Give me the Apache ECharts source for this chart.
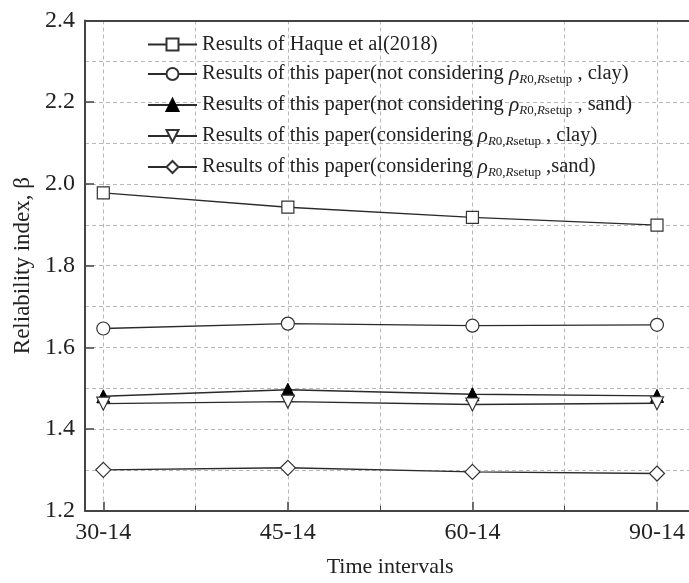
<!DOCTYPE html>
<html>
<head>
<meta charset="utf-8">
<script src="https://cdn.jsdelivr.net/npm/echarts@6/dist/echarts.min.js"></script>
<style>
html,body{margin:0;padding:0;background:#fff;}
#chart{width:689px;height:583px;}
</style>
</head>
<body>
<div id="chart"></div>
<script>
// ---- data ----
const categories = ['30-14', '45-14', '60-14', '90-14'];
const haque      = [1.978, 1.943, 1.918, 1.899];
const notClay    = [1.646, 1.658, 1.653, 1.655];
const notSand    = [1.480, 1.496, 1.485, 1.481];
const consClay   = [1.462, 1.467, 1.460, 1.463];
const consSand   = [1.300, 1.305, 1.295, 1.291];
const seriesNames = [
  'Results of Haque et al(2018)',
  'Results of this paper(not considering ρR0,Rsetup , clay)',
  'Results of this paper(not considering ρR0,Rsetup , sand)',
  'Results of this paper(considering ρR0,Rsetup , clay)',
  'Results of this paper(considering ρR0,Rsetup ,sand)'
];
const yAxisName = 'Reliability index, β';
const xAxisName = 'Time intervals';

const FONT = '"Liberation Serif", "Times New Roman", serif';
const INK = '#222';
const GRIDC = '#b8b8b8';

function toPts(arr) { return arr.map((v, i) => [i, v]); }

function legendFmt(name) {
  const key = 'ρR0,Rsetup';
  const k = name.indexOf(key);
  if (k < 0) return '{t|' + name + '}';
  const before = name.slice(0, k);
  const after = name.slice(k + key.length);
  return '{t|' + before + '}{rho|ρ}{si|R}{s|0,}{si|R}{s|setup}{t|' + after + '}';
}

const chart = echarts.init(document.getElementById('chart'), null, {renderer: 'canvas'});

const markerStyle = {color: '#fff', borderColor: '#333', borderWidth: 1.2};
const lineStyle = {color: '#2a2a2a', width: 1.4};

function mkSeries(idx, data, symbol, size, extra) {
  return Object.assign({
    name: seriesNames[idx],
    type: 'line',
    xAxisIndex: 1,
    yAxisIndex: 1,
    data: toPts(data),
    symbol: symbol,
    symbolSize: size,
    showAllSymbol: true,
    lineStyle: lineStyle,
    itemStyle: Object.assign({}, markerStyle),
    emphasis: {disabled: true},
    animation: false,
    z: 3 + idx
  }, extra || {});
}

const option = {
  backgroundColor: '#fff',
  animation: false,
  grid: [
    {left: 85, top: 20.5, width: 620, bottom: 72.3, outerBoundsMode: 'none', containLabel: false},
    {left: 103.3, top: 20.5, width: 553.7, bottom: 72.3, outerBoundsMode: 'none', containLabel: false}
  ],
  xAxis: [
    { // frame bottom
      gridIndex: 0, type: 'value', min: 0, max: 1, position: 'bottom',
      axisLine: {show: true, lineStyle: {color: '#444', width: 2}},
      axisTick: {show: false}, axisLabel: {show: false}, splitLine: {show: false}
    },
    { // data axis
      gridIndex: 1, type: 'value', min: 0, max: 3, interval: 1, position: 'bottom',
      axisLine: {show: false},
      axisTick: {show: true, inside: true, length: 9, lineStyle: {color: '#444', width: 1.5}},
      minorTick: {show: true, splitNumber: 2, length: 5, lineStyle: {color: '#444', width: 1}},
      axisLabel: {
        show: true, margin: 10, fontFamily: FONT, fontSize: 24, color: INK,
        formatter: function (v) { return Number.isInteger(v) ? categories[v] : ''; }
      },
      splitLine: {show: true, lineStyle: {color: GRIDC, type: [4, 3], width: 1}},
      minorSplitLine: {show: true, lineStyle: {color: GRIDC, type: [4, 3], width: 1}},
      name: xAxisName, nameLocation: 'middle', nameGap: 46,
      nameTextStyle: {fontFamily: FONT, fontSize: 22, color: INK, padding: [0, 0, 0, 20]}
    },
    { // frame top
      gridIndex: 0, type: 'value', min: 0, max: 1, position: 'top',
      axisLine: {show: true, lineStyle: {color: '#444', width: 2}},
      axisTick: {show: false}, axisLabel: {show: false}, splitLine: {show: false}
    }
  ],
  yAxis: [
    {
      gridIndex: 0, type: 'value', min: 1.2, max: 2.4, interval: 0.2,
      axisLine: {show: true, lineStyle: {color: '#444', width: 2}},
      axisTick: {show: true, inside: true, length: 9, lineStyle: {color: '#444', width: 1.5}},
      minorTick: {show: true, splitNumber: 2, length: 0, lineStyle: {opacity: 0}},
      axisLabel: {
        margin: 10, fontFamily: FONT, fontSize: 24, color: INK,
        formatter: function (v) { return v.toFixed(1); }
      },
      splitLine: {show: true, lineStyle: {color: GRIDC, type: [4, 3], width: 1}},
      minorSplitLine: {show: true, lineStyle: {color: GRIDC, type: [4, 3], width: 1}},
      name: yAxisName, nameLocation: 'middle', nameGap: 41, nameRotate: 90,
      nameTextStyle: {fontFamily: FONT, fontSize: 23, color: INK}
    },
    {
      gridIndex: 1, type: 'value', min: 1.2, max: 2.4, interval: 0.2,
      show: false, splitLine: {show: false}
    }
  ],
  legend: {
    orient: 'vertical',
    left: 142, top: 29,
    itemWidth: 49, itemHeight: 15, itemGap: 7,
    selectedMode: false,
    data: seriesNames,
    formatter: legendFmt,
    textStyle: {
      fontFamily: FONT, fontSize: 20.5, color: INK,
      rich: {
        t: {fontFamily: FONT, fontSize: 20.5, color: INK, lineHeight: 25},
        rho: {fontFamily: FONT, fontSize: 21.5, fontStyle: 'italic', color: INK, lineHeight: 25},
        si: {fontFamily: FONT, fontSize: 13, fontStyle: 'italic', color: INK, lineHeight: 13, padding: [11, 0, 0, 0]},
        s: {fontFamily: FONT, fontSize: 13, color: INK, lineHeight: 13, padding: [11, 0, 0, 0]}
      }
    }
  },
  series: [
    mkSeries(0, haque, 'rect', 12),
    mkSeries(1, notClay, 'circle', 13),
    mkSeries(2, notSand, 'triangle', 13, {itemStyle: {color: '#000', borderColor: '#000', borderWidth: 1}}),
    mkSeries(3, consClay, 'triangle', 13, {symbolRotate: 180}),
    mkSeries(4, consSand, 'diamond', 15)
  ]
};

chart.setOption(option);
</script>
</body>
</html>
